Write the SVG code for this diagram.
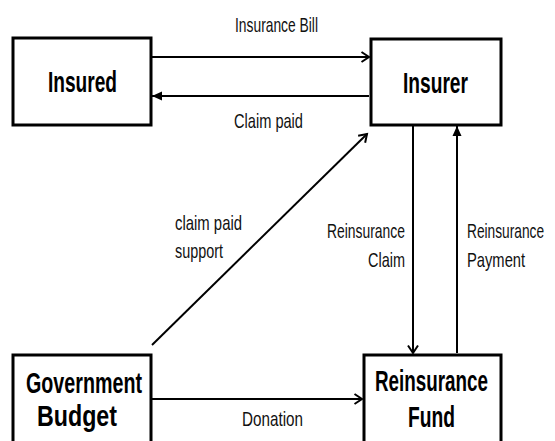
<svg xmlns="http://www.w3.org/2000/svg" width="555" height="441" viewBox="0 0 555 441">
<style>
.box{fill:#fff;stroke:#000;stroke-width:3}
.node{font-family:"Liberation Sans",Arial,sans-serif;font-weight:bold;font-size:29px;fill:#000}
.lbl{font-family:"Liberation Sans",Arial,sans-serif;font-size:21px;fill:#111}
.ln{stroke:#000;stroke-width:2;fill:none}
.open{marker-end:url(#open)}
.fill{marker-end:url(#solid)}
</style>
<defs>
<marker id="open" markerUnits="userSpaceOnUse" markerWidth="12" markerHeight="12" refX="9" refY="6" orient="auto">
<path d="M1.5,1 L9,6 L1.5,11" fill="none" stroke="#000" stroke-width="2"/>
</marker>
<marker id="solid" markerUnits="userSpaceOnUse" markerWidth="12" markerHeight="12" refX="10" refY="6" orient="auto">
<path d="M0,1.5 L10,6 L0,10.5 z" fill="#000"/>
</marker>
</defs>
<rect width="555" height="441" fill="#fff"/>
<g id="connectors">
<line class="ln open" x1="152" y1="57" x2="369" y2="57"/>
<line class="ln fill" x1="369" y1="96" x2="152" y2="96"/>
<line class="ln open" x1="152" y1="345" x2="367" y2="134"/>
<line class="ln open" x1="413" y1="126" x2="413" y2="353"/>
<line class="ln fill" x1="457" y1="353" x2="457" y2="126"/>
<line class="ln open" x1="152" y1="399" x2="362" y2="399"/>
<text class="lbl" x="235" y="32" textLength="83" lengthAdjust="spacingAndGlyphs">Insurance Bill</text>
<text class="lbl" x="234" y="128" textLength="69" lengthAdjust="spacingAndGlyphs">Claim paid</text>
<text class="lbl" x="175" y="230" textLength="67" lengthAdjust="spacingAndGlyphs">claim paid</text>
<text class="lbl" x="175" y="258" textLength="48" lengthAdjust="spacingAndGlyphs">support</text>
<text class="lbl" x="327" y="238" textLength="78" lengthAdjust="spacingAndGlyphs">Reinsurance</text>
<text class="lbl" x="368" y="267" textLength="37" lengthAdjust="spacingAndGlyphs">Claim</text>
<g transform="translate(467,0) scale(0.653,1)">
<text class="lbl" x="0" y="238" textLength="118" lengthAdjust="spacingAndGlyphs">Reinsurance</text>
<text class="lbl" x="0" y="267" textLength="89" lengthAdjust="spacingAndGlyphs">Payment</text>
</g>
<text class="lbl" x="242" y="426" textLength="61" lengthAdjust="spacingAndGlyphs">Donation</text>
</g>
<g id="insured">
<rect class="box" x="13" y="38" width="138" height="87"/>
<text class="node" x="48" y="92" textLength="69" lengthAdjust="spacingAndGlyphs">Insured</text>
</g>
<g id="insurer">
<rect class="box" x="371" y="39" width="130" height="86"/>
<text class="node" x="403" y="93" textLength="65" lengthAdjust="spacingAndGlyphs">Insurer</text>
</g>
<g id="government-budget">
<rect class="box" x="13" y="355" width="138" height="100"/>
<text class="node" x="26" y="393" textLength="116" lengthAdjust="spacingAndGlyphs">Government</text>
<text class="node" x="37" y="426" textLength="80" lengthAdjust="spacingAndGlyphs">Budget</text>
</g>
<g id="reinsurance-fund">
<rect class="box" x="364" y="355" width="137" height="100"/>
<text class="node" x="375" y="391" textLength="113" lengthAdjust="spacingAndGlyphs">Reinsurance</text>
<text class="node" x="408" y="427" textLength="47" lengthAdjust="spacingAndGlyphs">Fund</text>
</g>
</svg>
